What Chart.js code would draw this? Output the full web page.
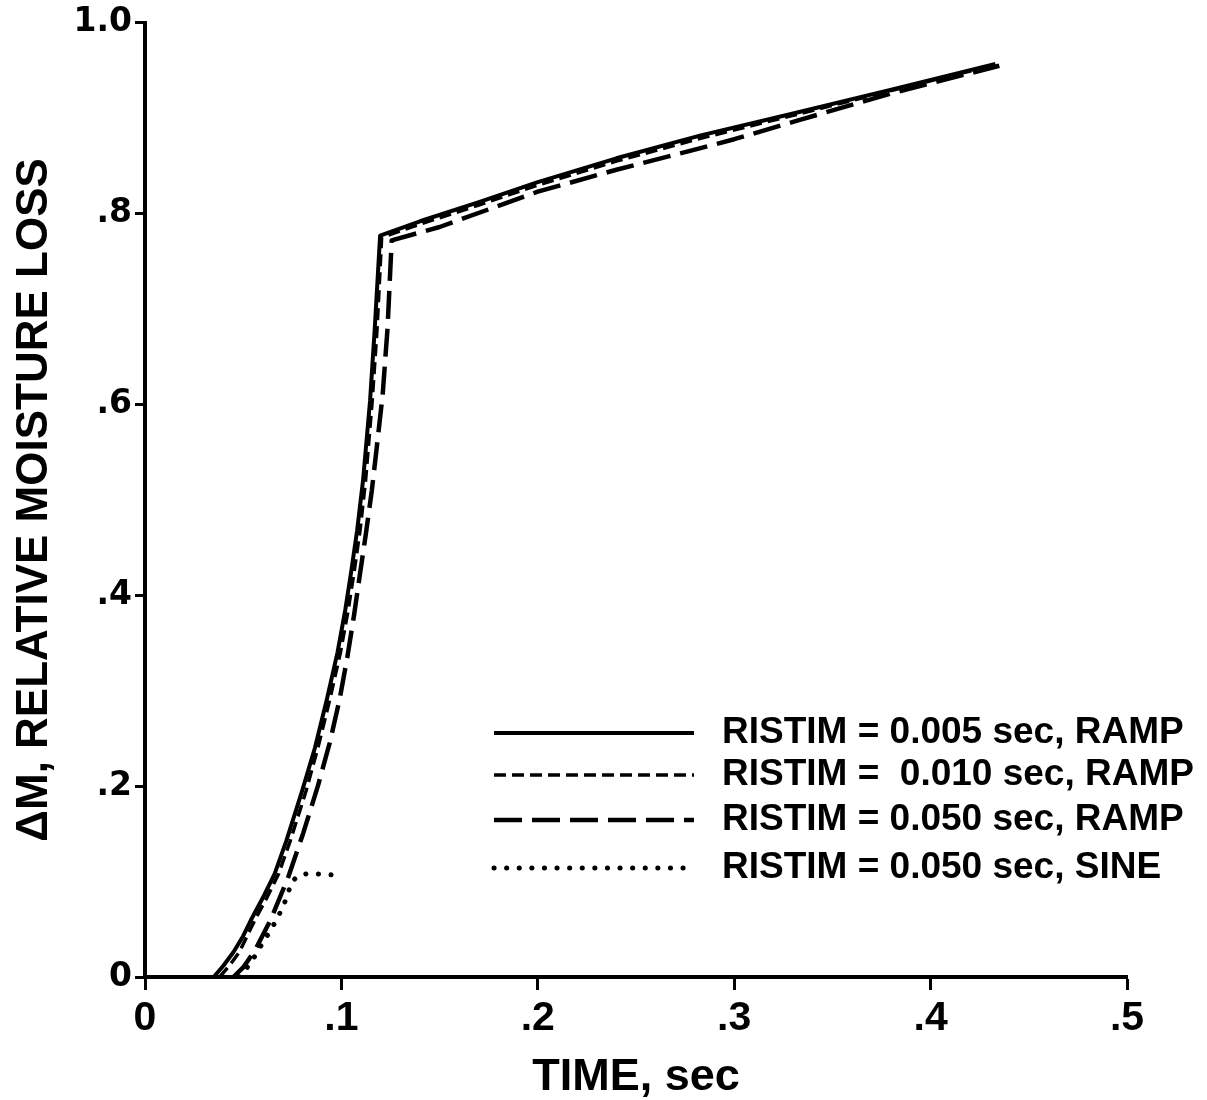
<!DOCTYPE html>
<html>
<head>
<meta charset="utf-8">
<script src="https://cdn.jsdelivr.net/npm/chart.js@4.4.1/dist/chart.umd.min.js"></script>
<style>
  html, body { margin: 0; padding: 0; background: #ffffff; }
  canvas { display: block; }
</style>
</head>
<body>
<canvas id="c" width="1207" height="1100"></canvas>
<script>
// ---- data ----
const seriesLabels = [
  'RISTIM = 0.005 sec, RAMP',
  'RISTIM =  0.010 sec, RAMP',
  'RISTIM = 0.050 sec, RAMP',
  'RISTIM = 0.050 sec, SINE'
];

const ramp005T = [0.035,0.040,0.045,0.050,0.054,0.060,0.066,0.072,0.080,0.0865,0.0925,0.098,0.102,0.105,0.108,0.111,0.1146,0.117,0.1197,0.14,0.17,0.2,0.24,0.283,0.33,0.38,0.433];
const ramp005M = [0,0.012,0.026,0.043,0.06,0.083,0.108,0.143,0.195,0.24,0.29,0.34,0.385,0.425,0.468,0.52,0.604,0.68,0.777,0.792,0.812,0.833,0.858,0.882,0.905,0.93,0.957];

const ramp010T = [0.038,0.043,0.048,0.052,0.056,0.062,0.068,0.074,0.082,0.088,0.094,0.0995,0.1035,0.1065,0.1095,0.1123,0.1157,0.1182,0.1205,0.14,0.17,0.2,0.24,0.283,0.33,0.38,0.433];
const ramp010M = [0,0.012,0.026,0.043,0.06,0.083,0.108,0.143,0.195,0.24,0.29,0.34,0.385,0.425,0.468,0.52,0.604,0.68,0.775,0.789,0.809,0.83,0.855,0.879,0.903,0.929,0.956];

const ramp050T = [0.045,0.050,0.056,0.064,0.073,0.0806,0.088,0.094,0.099,0.103,0.1065,0.1095,0.1125,0.1155,0.118,0.121,0.1235,0.1256,0.15,0.2,0.24,0.278,0.3,0.333,0.38,0.435];
const ramp050M = [0,0.01,0.028,0.06,0.105,0.151,0.2,0.245,0.29,0.335,0.38,0.423,0.465,0.51,0.555,0.61,0.68,0.772,0.786,0.823,0.846,0.866,0.878,0.898,0.926,0.955];

const sine050T = [0.048,0.052,0.056,0.060,0.064,0.068,0.0715,0.0748,0.078,0.082,0.088,0.095];
const sine050M = [0,0.01,0.022,0.036,0.049,0.064,0.08,0.1,0.106,0.108,0.108,0.107];

const xTickLabels = ['0', '.1', '.2', '.3', '.4', '.5'];
const yTickLabels = ['0', '.2', '.4', '.6', '.8', '1.0'];

function pts(ts, ms) { return ts.map((t, i) => ({ x: t, y: ms[i] })); }

// ---- styling ----
const lineStyles = [
  { borderDash: [], borderWidth: 4, borderCapStyle: 'butt' },
  { borderDash: [12, 6], borderWidth: 3.5, borderCapStyle: 'butt' },
  { borderDash: [28, 10], borderWidth: 4.5, borderCapStyle: 'butt' },
  { borderDash: [0.1, 12.5], borderWidth: 5, borderCapStyle: 'round' }
];
const seriesData = [
  pts(ramp005T, ramp005M),
  pts(ramp010T, ramp010M),
  pts(ramp050T, ramp050M),
  pts(sine050T, sine050M)
];

const datasets = seriesData.map((d, i) => Object.assign({
  label: seriesLabels[i],
  data: d,
  borderColor: '#000000',
  backgroundColor: '#000000',
  pointRadius: 0,
  fill: false,
  tension: 0,
  borderJoinStyle: 'round',
  showLine: true
}, lineStyles[i]));

const whiteBg = {
  id: 'whiteBg',
  beforeDraw(chart) {
    const ctx = chart.ctx;
    ctx.save();
    ctx.fillStyle = '#ffffff';
    ctx.fillRect(0, 0, chart.width, chart.height);
    ctx.restore();
  }
};

// Legend drawn inside the plot area, lower right
const legendRowsY = [733, 775, 820, 868];
const inPlotLegend = {
  id: 'inPlotLegend',
  afterDraw(chart) {
    const ctx = chart.ctx;
    const x1 = 494, x2 = 694, tx = 722;
    ctx.save();
    chart.data.datasets.forEach((ds, i) => {
      const y = legendRowsY[i];
      ctx.beginPath();
      ctx.strokeStyle = '#000';
      ctx.lineWidth = ds.borderWidth;
      ctx.lineCap = ds.borderCapStyle;
      ctx.setLineDash(ds.borderDash);
      ctx.moveTo(x1, y);
      ctx.lineTo(x2, y);
      ctx.stroke();
      ctx.setLineDash([]);
      ctx.fillStyle = '#000';
      ctx.font = 'bold 37px "Liberation Sans", Arial, sans-serif';
      ctx.textBaseline = 'middle';
      ctx.textAlign = 'left';
      ctx.fillText(ds.label, tx, y);
    });
    ctx.restore();
  }
};

new Chart(document.getElementById('c'), {
  type: 'scatter',
  data: { datasets },
  plugins: [whiteBg, inPlotLegend],
  options: {
    responsive: false,
    animation: false,
    devicePixelRatio: 1,
    layout: { padding: { top: 22, right: 80, bottom: 0, left: 0 } },
    plugins: { legend: { display: false }, tooltip: { enabled: false } },
    scales: {
      x: {
        type: 'linear',
        min: 0, max: 0.5,
        afterFit(scale) { scale.height = 123; },
        border: { display: true, color: '#000', width: 4 },
        grid: { display: true, drawOnChartArea: false, drawTicks: true, tickLength: 13, tickWidth: 3, tickColor: '#000' },
        ticks: {
          stepSize: 0.1,
          color: '#000',
          padding: 4,
          maxRotation: 0,
          font: { family: '"Liberation Sans", Arial, sans-serif', size: 41, weight: 'bold' },
          callback: (v, i) => xTickLabels[i]
        },
        title: {
          display: true,
          text: 'TIME, sec',
          color: '#000',
          padding: { top: 0, bottom: 0 },
          font: { family: '"Liberation Sans", Arial, sans-serif', size: 45, weight: 'bold', lineHeight: 1 }
        }
      },
      y: {
        type: 'linear',
        min: 0, max: 1,
        afterFit(scale) { scale.width = 145; },
        border: { display: true, color: '#000', width: 4 },
        grid: { display: true, drawOnChartArea: false, drawTicks: true, tickLength: 10, tickWidth: 3, tickColor: '#000' },
        ticks: {
          stepSize: 0.2,
          color: '#000',
          padding: 3,
          font: { family: '"DejaVu Sans", sans-serif', size: 33, weight: 'bold' },
          callback: (v, i) => yTickLabels[i]
        },
        title: {
          display: true,
          text: 'ΔM, RELATIVE MOISTURE LOSS',
          color: '#000',
          padding: { top: 13, bottom: 0 },
          font: { family: '"Liberation Sans", Arial, sans-serif', size: 44, weight: 'bold', lineHeight: 1 }
        }
      }
    }
  }
});
</script>
</body>
</html>
